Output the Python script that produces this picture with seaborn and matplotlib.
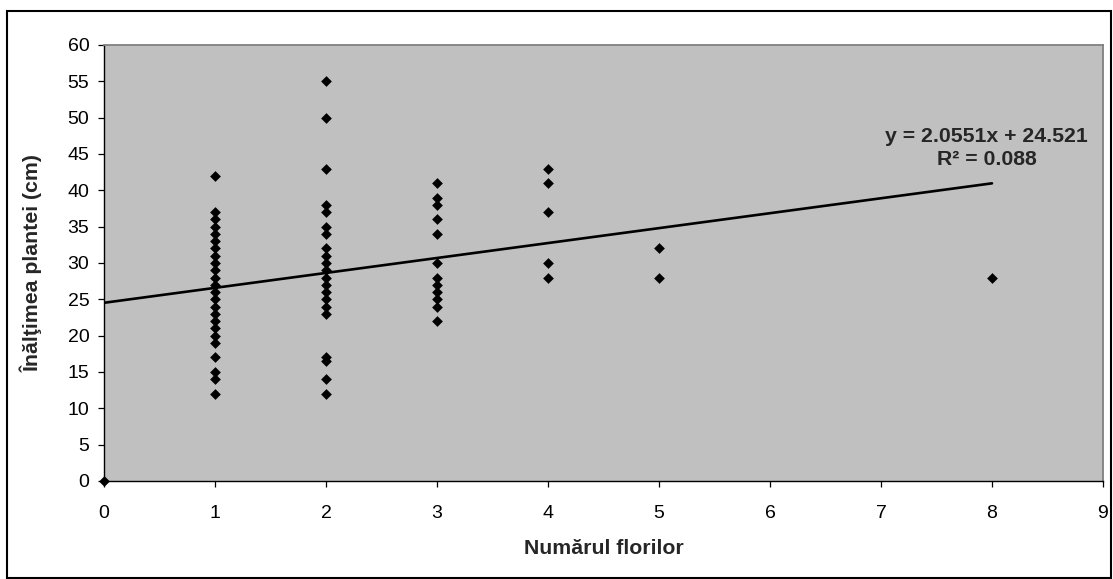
import matplotlib
matplotlib.use("Agg")
import matplotlib.pyplot as plt
import seaborn as sns
import pandas as pd
import numpy as np
from matplotlib.patches import Rectangle

# Plant height (cm) grouped by number of flowers
heights_0 = [0]
heights_1 = [42, 37, 36, 35, 34, 33, 32, 31, 30, 29, 28, 27, 26, 25, 24, 23,
             22, 21, 20, 19, 17, 15, 14, 12]
heights_2 = [55, 50, 43, 38, 37, 35, 34, 32, 31, 30, 29, 28, 27, 26, 25, 24,
             23, 17, 16.5, 14, 12]
heights_3 = [41, 39, 38, 36, 34, 30, 28, 27, 26, 25, 24, 22]
heights_4 = [43, 41, 37, 30, 28]
heights_5 = [32, 28]
heights_8 = [28]

flower_counts = [0, 1, 2, 3, 4, 5, 8]
height_groups = [heights_0, heights_1, heights_2, heights_3, heights_4,
                 heights_5, heights_8]

# Linear trend reported on the chart
slope = 2.0551
intercept = 24.521
r_squared = 0.088

x_ticks = list(range(0, 10))
y_ticks = list(range(0, 61, 5))

df = pd.DataFrame({
    "flori": [n for n, g in zip(flower_counts, height_groups) for _ in g],
    "inaltime": [h for g in height_groups for h in g],
})

sns.set_theme(style="white")
plt.rcParams["font.family"] = ["Liberation Sans", "DejaVu Sans"]

fig = plt.figure(figsize=(11.13, 5.79), dpi=100)
ax = fig.add_axes([0.0934, 0.1693, 0.8976, 0.753])
ax.set_facecolor("#C0C0C0")

sns.scatterplot(data=df, x="flori", y="inaltime", marker="D", s=30,
                color="black", edgecolor="black", linewidth=0, ax=ax,
                zorder=3, clip_on=False)

trend = pd.DataFrame({"x": [0, max(flower_counts)]})
trend["y"] = slope * trend["x"] + intercept
sns.lineplot(data=trend, x="x", y="y", color="black", linewidth=1.9,
             ax=ax, zorder=2)

ax.set_xlim(0, 9)
ax.set_ylim(0, 60)
ax.set_xticks(x_ticks)
ax.set_yticks(y_ticks)
ax.tick_params(axis="both", which="major", labelsize=14, length=4.5,
               width=0.9, color="black", direction="out", bottom=True,
               left=True, labelcolor="black")
ax.tick_params(axis="x", pad=12.5)
ax.tick_params(axis="y", pad=6)

for side in ["top", "right"]:
    ax.spines[side].set_color("#808080")
    ax.spines[side].set_linewidth(1.3)
for side in ["left", "bottom"]:
    ax.spines[side].set_color("black")
    ax.spines[side].set_linewidth(1.0)

ax.set_xlabel("Numărul florilor", fontsize=15.3, fontweight="bold")
ax.set_ylabel("Înălţimea plantei (cm)", fontsize=15.3, fontweight="bold")
ax.xaxis.set_label_coords(0.5, -0.133)
ax.yaxis.set_label_coords(-0.061, 0.5)

ax.text(7.95, 46.7, f"y = {slope}x + {intercept}", fontsize=15.3,
        fontweight="bold", ha="center", va="baseline")
ax.text(7.95, 43.5, f"R² = {r_squared}", fontsize=15.3,
        fontweight="bold", ha="center", va="baseline")

# Outer chart frame
fig.patches.append(Rectangle((6.5 / 1113, 1 / 579), 1104 / 1113, 567 / 579,
                             transform=fig.transFigure, fill=False,
                             edgecolor="black", linewidth=1.5))

fig.savefig("out.png", dpi=100, facecolor="white")
